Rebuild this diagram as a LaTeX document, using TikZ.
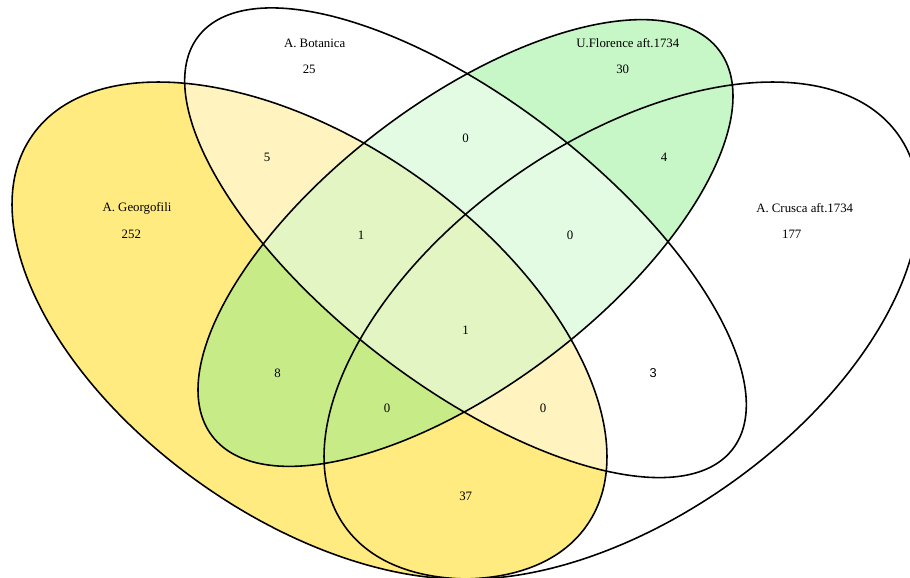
\documentclass[tikz,border=0pt]{standalone}
\usepackage{fontspec}
\setmainfont{Liberation Serif}
\setsansfont{Liberation Sans}
\usepackage{xcolor}
\usepackage{tikz}

\definecolor{setG}{RGB}{255,215,0}
\definecolor{setF}{RGB}{144,238,144}

\begin{document}
\begin{tikzpicture}[x=0.02cm, y=-0.02cm,
  setline/.style={draw=black, line width=0.9pt},
  lab/.style={font=\fontsize{7.3}{8}\selectfont, inner sep=0pt}]
  \useasboundingbox (0,0) rectangle (910,578);
  \clip (0,0) rectangle (910,578);

  % fills (Crusca has none)
  \fill[setG, opacity=0.5, rotate around={-35.2:(309.5,330.5)}]
    (309.5,330.5) ellipse [x radius=339, y radius=187.8];
  \fill[setF, opacity=0.5, rotate around={37.3:(465.5,243)}]
    (465.5,243) ellipse [x radius=318.5, y radius=141.3];
  \fill[white, opacity=0.5, rotate around={-37.7:(465.5,242.75)}]
    (465.5,242.75) ellipse [x radius=337.6, y radius=141.4];

  % outlines on top
  \foreach \cx/\cy/\rx/\ry/\a in {309.5/330.5/339/187.8/-35.2,
                                  621.5/330.5/339/187.8/35.2,
                                  465.5/242.75/337.6/141.4/-37.7,
                                  465.5/243/318.5/141.3/37.3}
    \draw[setline, rotate around={\a:(\cx,\cy)}] (\cx,\cy) ellipse [x radius=\rx, y radius=\ry];

  % set names and their own counts
  \node[lab] (nameG) at (137,208.5) {A. Georgofili};
  \node[lab] (numG)  at (131.3,234) {252};
  \node[lab] (nameB) at (314.7,43.5) {A. Botanica};
  \node[lab] (numB)  at (309.2,69.5) {25};
  \node[lab] (nameF) at (627.8,43.5) {U.Florence aft.1734};
  \node[lab] (numF)  at (622.7,69.5) {30};
  \node[lab] (nameC) at (804.7,208.5) {A. Crusca aft.1734};
  \node[lab] (numC)  at (791.7,234) {177};

  % overlaps
  \foreach \n/\x/\y/\v in {gb/267/157/5, bf/465.5/138/0, fc/664/157/4,
                           gbf/361/235/1, bfc/570/235/0, gbfc/465.5/330/1,
                           gf/277.7/373.5/8, gfc/387/408/0, gbc/543/408/0,
                           gc/465.7/496/37}
    \node[lab] (r\n) at (\x,\y) {\v};
  \node[lab] (rbc) at (653.3,373.5) {\sffamily 3};
\end{tikzpicture}
\end{document}
